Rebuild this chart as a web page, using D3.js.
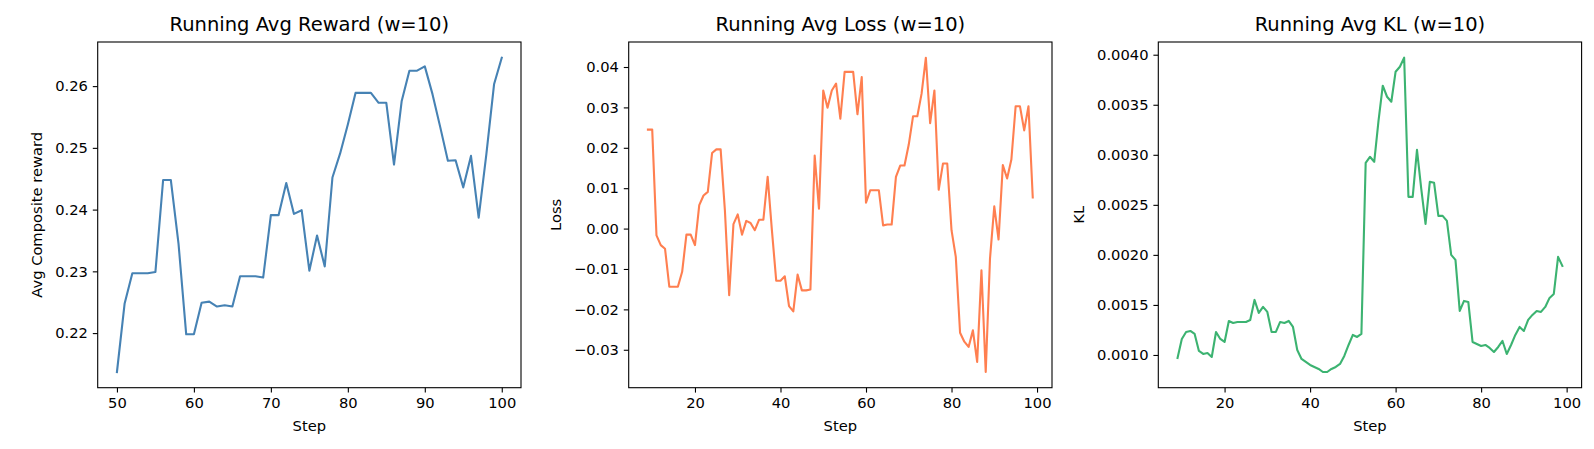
<!DOCTYPE html>
<html>
<head>
<meta charset="utf-8">
<script src="https://cdn.jsdelivr.net/npm/d3@7"></script>
<style>
  html, body { margin: 0; padding: 0; background: #fff; }
  svg { display: block; font-family: "DejaVu Sans", sans-serif; }
</style>
</head>
<body>
<div id="chart"></div>
<script>
// Datos: pasos y valores de cada serie
const rewardSteps = d3.range(50, 101)
const rewardValues = [
  0.2137, 0.2248, 0.2297, 0.2297, 0.2297, 0.2299, 0.2448, 0.2448, 0.2345, 0.2198,
  0.2198, 0.2249, 0.2251, 0.2243, 0.2245, 0.2243, 0.2292, 0.2292, 0.2292, 0.2290,
  0.2391, 0.2391, 0.2443, 0.2393, 0.2399, 0.2301, 0.2358, 0.2308, 0.2452, 0.2491,
  0.2538, 0.2589, 0.2589, 0.2589, 0.2573, 0.2573, 0.2473, 0.2576, 0.2625, 0.2625,
  0.2632, 0.2587, 0.2534, 0.2479, 0.2480, 0.2436, 0.2487, 0.2387, 0.2490, 0.2603,
  0.2646
]

const lossSteps = d3.range(9, 100)
const lossValues = [
  0.0245, 0.0245, -0.0017, -0.0041, -0.0050, -0.0144, -0.0144, -0.0144, -0.0107, -0.0015,
  -0.0015, -0.0041, 0.0058, 0.0082, 0.0091, 0.0187, 0.0196, 0.0196, 0.0045, -0.0165,
  0.0011, 0.0035, -0.0015, 0.0019, 0.0014, -0.0004, 0.0022, 0.0022, 0.0128, -0.0005,
  -0.0129, -0.0129, -0.0118, -0.0192, -0.0205, -0.0114, -0.0153, -0.0153, -0.0151, 0.0181,
  0.0049, 0.0342, 0.0299, 0.0342, 0.0359, 0.0272, 0.0388, 0.0388, 0.0388, 0.0283,
  0.0375, 0.0064, 0.0095, 0.0095, 0.0095, 0.0008, 0.0010, 0.0010, 0.0128, 0.0156,
  0.0156, 0.0208, 0.0278, 0.0278, 0.0334, 0.0423, 0.0261, 0.0342, 0.0096, 0.0161,
  0.0161, -0.0004, -0.0070, -0.0258, -0.0280, -0.0293, -0.0252, -0.0330, -0.0103, -0.0355,
  -0.0074, 0.0055, -0.0027, 0.0157, 0.0124, 0.0171, 0.0303, 0.0303, 0.0243, 0.0303,
  0.0077
]

const klSteps = d3.range(9, 100)
const klValues = [
  0.00097, 0.00116, 0.00123, 0.00124, 0.00121, 0.00104, 0.00101, 0.00102, 0.00098, 0.00123,
  0.00116, 0.00113, 0.00134, 0.00132, 0.00133, 0.00133, 0.00133, 0.00135, 0.00155, 0.00142,
  0.00148, 0.00143, 0.00123, 0.00123, 0.00133, 0.00132, 0.00134, 0.00128, 0.00105, 0.00096,
  0.00093, 0.00090, 0.00088, 0.00086, 0.00083, 0.00083, 0.00086, 0.00088, 0.00091, 0.00099,
  0.00110, 0.00120, 0.00118, 0.00121, 0.00292, 0.00298, 0.00293, 0.00334, 0.00369, 0.00358,
  0.00353, 0.00383, 0.00388, 0.00397, 0.00258, 0.00258, 0.00305, 0.00266, 0.00231, 0.00273,
  0.00272, 0.00239, 0.00239, 0.00234, 0.00200, 0.00195, 0.00144, 0.00154, 0.00153, 0.00113,
  0.00111, 0.00109, 0.00110, 0.00107, 0.00103, 0.00108, 0.00114, 0.00101, 0.00110, 0.00120,
  0.00128, 0.00124, 0.00135, 0.00140, 0.00144, 0.00143, 0.00148, 0.00157, 0.00161, 0.00198,
  0.00189
]

// Marcas de los ejes
const rewardXTicks = [50, 60, 70, 80, 90, 100]
const rewardYTicks = [0.22, 0.23, 0.24, 0.25, 0.26]
const lossXTicks = [20, 40, 60, 80, 100]
const lossYTicks = [-0.03, -0.02, -0.01, 0.00, 0.01, 0.02, 0.03, 0.04]
const klXTicks = [20, 40, 60, 80, 100]
const klYTicks = [0.0010, 0.0015, 0.0020, 0.0025, 0.0030, 0.0035, 0.0040]

const width = 1594, height = 449
const plotTop = 42, plotBottom = 387.7, plotW = 423.3
const fontSmall = "14.7px", fontTitle = "19.5px"

const svg = d3.select("#chart").append("svg")
  .attr("width", width)
  .attr("height", height)

const minus = s => s.replace("-", "\u2212")

const panels = [
  { left: 97.7, title: "Running Avg Reward (w=10)", ylabel: "Avg Composite reward",
    steps: rewardSteps, values: rewardValues, color: "#4682b4",
    xTicks: rewardXTicks, yTicks: rewardYTicks, fmt: d3.format(".2f") },
  { left: 628.7, title: "Running Avg Loss (w=10)", ylabel: "Loss",
    steps: lossSteps, values: lossValues, color: "#ff7f50",
    xTicks: lossXTicks, yTicks: lossYTicks, fmt: d3.format(".2f") },
  { left: 1158.3, title: "Running Avg KL (w=10)", ylabel: "KL",
    steps: klSteps, values: klValues, color: "#3cb371",
    xTicks: klXTicks, yTicks: klYTicks, fmt: d3.format(".4f") }
]

// margen de 5% como matplotlib
function padded(ext) {
  const m = (ext[1] - ext[0]) * 0.05
  return [ext[0] - m, ext[1] + m]
}

panels.forEach(p => {
  const g = svg.append("g")

  const x = d3.scaleLinear()
    .domain(padded(d3.extent(p.steps)))
    .range([p.left, p.left + plotW])
  const y = d3.scaleLinear()
    .domain(padded(d3.extent(p.values)))
    .range([plotBottom, plotTop])

  const xAxis = g.append("g")
    .attr("transform", `translate(0,${plotBottom})`)
    .call(d3.axisBottom(x).tickValues(p.xTicks).tickSize(4.9).tickPadding(4.9).tickFormat(d3.format("d")))
  const yAxis = g.append("g")
    .attr("transform", `translate(${p.left},0)`)
    .call(d3.axisLeft(y).tickValues(p.yTicks).tickSize(4.9).tickPadding(4.9).tickFormat(d => minus(p.fmt(d))))

  ;[xAxis, yAxis].forEach(a => {
    a.select(".domain").remove()
    a.selectAll(".tick line").attr("stroke", "#000").attr("stroke-width", 1.1)
    a.selectAll(".tick text")
      .attr("fill", "#000")
      .attr("font-size", fontSmall)
      .attr("font-family", "DejaVu Sans")
  })

  // Línea
  const line = d3.line()
    .x((d, i) => x(p.steps[i]))
    .y(d => y(d))
  g.append("path")
    .datum(p.values)
    .attr("fill", "none")
    .attr("stroke", p.color)
    .attr("stroke-width", 2.1)
    .attr("stroke-linejoin", "round")
    .attr("stroke-linecap", "square")
    .attr("d", line)

  // Marco
  g.append("rect")
    .attr("x", p.left)
    .attr("y", plotTop)
    .attr("width", plotW)
    .attr("height", plotBottom - plotTop)
    .attr("fill", "none")
    .attr("stroke", "#000")
    .attr("stroke-width", 1.1)

  // Título
  g.append("text")
    .attr("x", p.left + plotW / 2)
    .attr("y", 30.5)
    .attr("text-anchor", "middle")
    .attr("font-size", fontTitle)
    .attr("fill", "#000")
    .text(p.title)

  // Etiqueta X
  g.append("text")
    .attr("x", p.left + plotW / 2)
    .attr("y", 431)
    .attr("text-anchor", "middle")
    .attr("font-size", fontSmall)
    .attr("fill", "#000")
    .text("Step")

  // Etiqueta Y, a la izquierda de las marcas
  const bb = yAxis.node().getBBox()
  const lx = p.left + bb.x - 12.8
  g.append("text")
    .attr("transform", `translate(${lx},${(plotTop + plotBottom) / 2}) rotate(-90)`)
    .attr("text-anchor", "middle")
    .attr("font-size", fontSmall)
    .attr("fill", "#000")
    .text(p.ylabel)
})
</script>
</body>
</html>
